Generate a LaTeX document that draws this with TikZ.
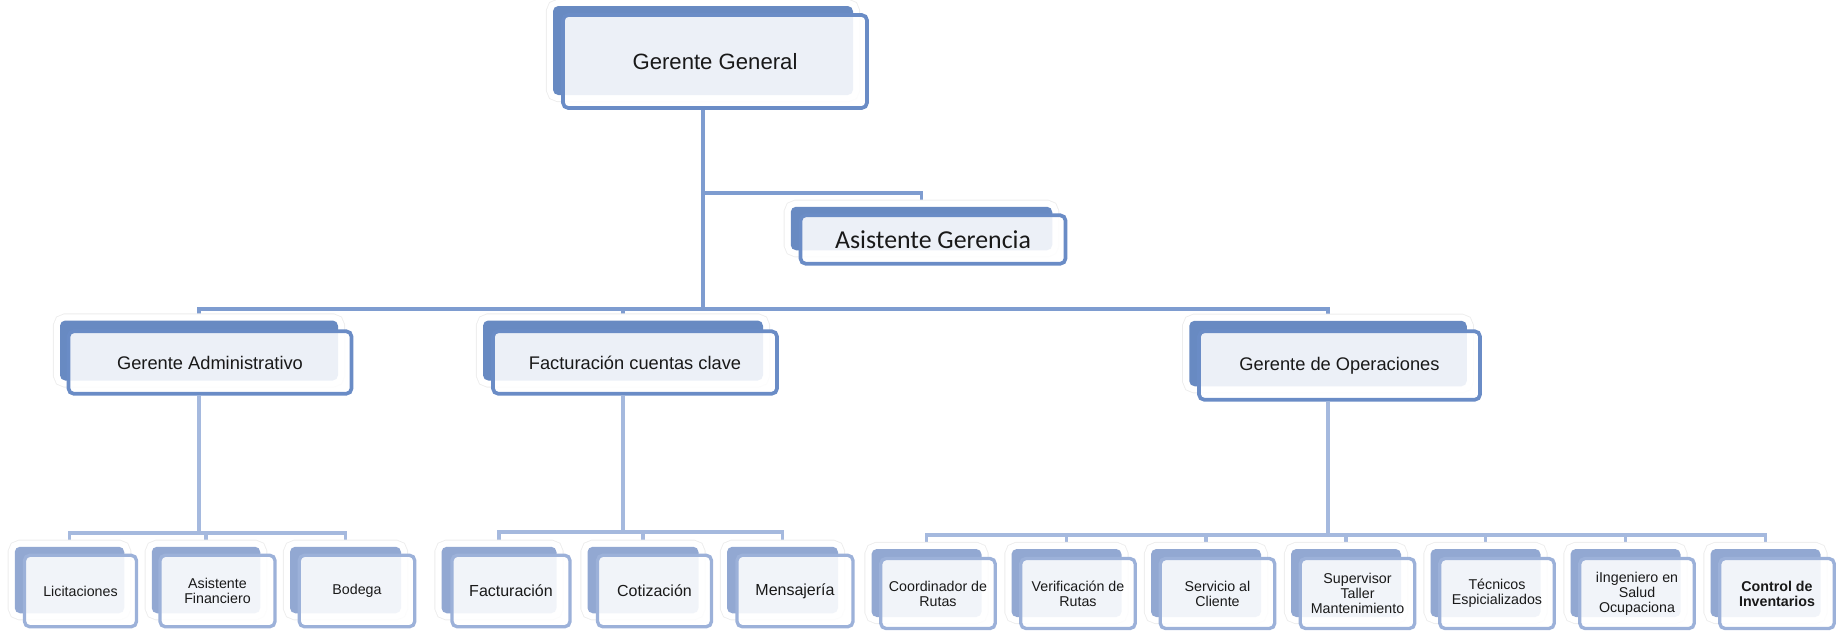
\documentclass[tikz,border=0pt]{standalone}
\usepackage{fontspec}
\setmainfont{Liberation Sans}
\newfontfamily\calibri{Carlito}
\usetikzlibrary{backgrounds}
\definecolor{boxblue}{RGB}{104,138,194}
\definecolor{edgeblue}{RGB}{106,140,198}
\definecolor{lineblue}{RGB}{126,156,208}
\definecolor{paleblue}{RGB}{146,168,210}
\definecolor{paleedge}{RGB}{156,177,217}
\definecolor{paleline}{RGB}{165,185,222}
\begin{document}
\begin{tikzpicture}[
  every node/.style={text=black!90},
  backcard/.style={rounded corners=3pt,fill=boxblue,inner sep=0pt,outer sep=0.13cm,
    preaction={draw=black!7,line width=8pt},
    preaction={draw=white,line width=7pt}},
  frontcard/.style={rounded corners=3pt,draw=edgeblue,line width=2.1pt,fill=white,
    fill opacity=0.88,text opacity=1,inner sep=0pt,align=center},
  lowbackcard/.style={backcard,fill=paleblue},
  lowfrontcard/.style={frontcard,draw=paleedge,line width=1.9pt},
  branch/.style={draw=lineblue,line width=2.2pt},
  lowbranch/.style={draw=paleline,line width=2pt},
  bigname/.style={font=\fontsize{12.6}{15}\selectfont},
  midname/.style={font=\fontsize{10.4}{12.5}\selectfont},
  leafname/.style={font=\fontsize{8.1}{8.6}\selectfont},
  billname/.style={font=\fontsize{9.1}{10}\selectfont}
]
\useasboundingbox (0,0) rectangle (36.86,-12.66);

% gerencia
\node[backcard,minimum width=6.00cm,minimum height=1.78cm] (gg-b) at (14.06,-1.01) {};
\node[frontcard,bigname,minimum width=6.08cm,minimum height=1.86cm] (gg) at (14.30,-1.23) {Gerente General};
\node[backcard,minimum width=5.23cm,minimum height=0.87cm] (ag-b) at (18.43,-4.57) {};
\node[frontcard,font=\calibri\fontsize{14.7}{17}\selectfont,minimum width=5.30cm,minimum height=0.97cm] (ag) at (18.66,-4.79) {Asistente Gerencia};

% areas
\node[backcard,minimum width=5.56cm,minimum height=1.20cm] (ga-b) at (3.98,-7.01) {};
\node[frontcard,midname,minimum width=5.66cm,minimum height=1.25cm] (ga) at (4.20,-7.25) {Gerente Administrativo};
\node[backcard,minimum width=5.60cm,minimum height=1.20cm] (fc-b) at (12.46,-7.01) {};
\node[frontcard,midname,minimum width=5.68cm,minimum height=1.25cm] (fc) at (12.70,-7.25) {Facturación cuentas clave};
\node[backcard,minimum width=5.55cm,minimum height=1.31cm] (go-b) at (26.56,-7.07) {};
\node[frontcard,midname,minimum width=5.62cm,minimum height=1.37cm] (go) at (26.79,-7.31) {Gerente de Operaciones};

% administrativo
\node[lowbackcard,minimum width=2.19cm,minimum height=1.33cm] (lic-b) at (1.39,-11.60) {};
\node[lowfrontcard,leafname,minimum width=2.24cm,minimum height=1.43cm] (lic) at (1.61,-11.82) {Licitaciones};
\node[lowbackcard,minimum width=2.17cm,minimum height=1.33cm] (af-b) at (4.12,-11.60) {};
\node[lowfrontcard,leafname,minimum width=2.30cm,minimum height=1.43cm] (af) at (4.35,-11.82) {Asistente\\Financiero};
\node[lowbackcard,minimum width=2.22cm,minimum height=1.33cm] (bod-b) at (6.91,-11.60) {};
\node[lowfrontcard,leafname,minimum width=2.31cm,minimum height=1.43cm] (bod) at (7.14,-11.82) {Bodega};

% facturacion
\node[lowbackcard,minimum width=2.30cm,minimum height=1.33cm] (fac-b) at (9.98,-11.60) {};
\node[lowfrontcard,billname,minimum width=2.36cm,minimum height=1.43cm] (fac) at (10.22,-11.82) {Facturación};
\node[lowbackcard,minimum width=2.22cm,minimum height=1.33cm] (cot-b) at (12.86,-11.60) {};
\node[lowfrontcard,billname,minimum width=2.28cm,minimum height=1.43cm] (cot) at (13.09,-11.82) {Cotización};
\node[lowbackcard,minimum width=2.22cm,minimum height=1.33cm] (men-b) at (15.65,-11.60) {};
\node[lowfrontcard,billname,minimum width=2.32cm,minimum height=1.43cm] (men) at (15.90,-11.82) {Mensajería};

% operaciones
\node[lowbackcard,minimum width=2.20cm,minimum height=1.36cm] (rut-b) at (18.53,-11.66) {};
\node[lowfrontcard,leafname,minimum width=2.29cm,minimum height=1.40cm] (rut) at (18.76,-11.87) {Coordinador de\\Rutas};
\node[lowbackcard,minimum width=2.20cm,minimum height=1.36cm] (ver-b) at (21.33,-11.66) {};
\node[lowfrontcard,leafname,minimum width=2.29cm,minimum height=1.40cm] (ver) at (21.56,-11.87) {Verificación de\\Rutas};
\node[lowbackcard,minimum width=2.20cm,minimum height=1.36cm] (cli-b) at (24.12,-11.66) {};
\node[lowfrontcard,leafname,minimum width=2.29cm,minimum height=1.40cm] (cli) at (24.35,-11.87) {Servicio al\\Cliente};
\node[lowbackcard,minimum width=2.20cm,minimum height=1.36cm] (sup-b) at (26.92,-11.66) {};
\node[lowfrontcard,leafname,minimum width=2.29cm,minimum height=1.40cm] (sup) at (27.15,-11.87) {Supervisor\\Taller\\Mantenimiento};
\node[lowbackcard,minimum width=2.20cm,minimum height=1.36cm] (tec-b) at (29.71,-11.66) {};
\node[lowfrontcard,leafname,minimum width=2.29cm,minimum height=1.40cm] (tec) at (29.94,-11.87) {Técnicos\\Espicializados};
\node[lowbackcard,minimum width=2.20cm,minimum height=1.36cm] (sal-b) at (32.51,-11.66) {};
\node[lowfrontcard,leafname,minimum width=2.29cm,minimum height=1.40cm] (sal) at (32.74,-11.87) {iIngeniero en\\Salud\\Ocupaciona};
\node[lowbackcard,minimum width=2.20cm,minimum height=1.36cm] (inv-b) at (35.31,-11.66) {};
\node[lowfrontcard,leafname,font=\fontsize{8.1}{8.6}\selectfont\bfseries,minimum width=2.29cm,minimum height=1.40cm] (inv) at (35.54,-11.87) {Control de\\Inventarios};

\coordinate (hub) at (14.06,-6.18);
\coordinate (ga-hub) at (3.98,-10.66);
\coordinate (fc-hub) at (12.46,-10.64);
\coordinate (go-hub) at (26.56,-10.70);

\begin{pgfonlayer}{background}
\draw[branch] (gg-b.south |- gg.south) -- (hub);
\draw[branch] (gg-b.south |- gg.south) |- ([yshift=0.15cm]ag-b.north) -- (ag-b.north);
\draw[branch] (hub) -| (ga-b.north);
\draw[branch] (hub) -| (fc-b.north);
\draw[branch] (hub) -| (go-b.north);
\draw[lowbranch] (ga-b.south |- ga.south) -- (ga-hub);
\draw[lowbranch] (ga-hub) -| (lic-b.north);
\draw[lowbranch] (ga-hub) -| (af-b.north);
\draw[lowbranch] (ga-hub) -| (bod-b.north);
\draw[lowbranch] (fc-b.south |- fc.south) -- (fc-hub);
\draw[lowbranch] (fc-hub) -| (fac-b.north);
\draw[lowbranch] (fc-hub) -| (cot-b.north);
\draw[lowbranch] (fc-hub) -| (men-b.north);
\draw[lowbranch] (go-b.south |- go.south) -- (go-hub);
\draw[lowbranch] (go-hub) -| (rut-b.north);
\draw[lowbranch] (go-hub) -| (ver-b.north);
\draw[lowbranch] (go-hub) -| (cli-b.north);
\draw[lowbranch] (go-hub) -| (sup-b.north);
\draw[lowbranch] (go-hub) -| (tec-b.north);
\draw[lowbranch] (go-hub) -| (sal-b.north);
\draw[lowbranch] (go-hub) -| (inv-b.north);
\end{pgfonlayer}
\end{tikzpicture}
\end{document}
